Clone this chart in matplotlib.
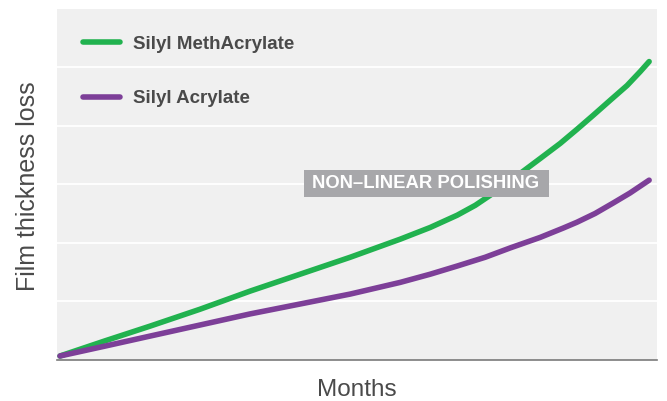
import matplotlib
matplotlib.use("Agg")
import matplotlib.pyplot as plt
from matplotlib.patches import Rectangle

# ---- data ----
series_names = ["Silyl MethAcrylate", "Silyl Acrylate"]
months_green = [0.00, 0.92, 1.83, 2.85, 3.87, 4.89, 5.91, 6.93, 7.54, 8.09, 8.46,
                8.76, 9.07, 9.43, 9.78, 10.19, 10.53, 10.86, 11.21, 11.55, 11.82, 12.00]
loss_green = [0.06, 0.32, 0.57, 0.86, 1.17, 1.46, 1.75, 2.06, 2.26, 2.47, 2.64,
              2.81, 3.00, 3.22, 3.44, 3.70, 3.94, 4.18, 4.44, 4.69, 4.93, 5.10]
months_purple = [0.00, 0.92, 1.83, 2.85, 3.87, 4.89, 5.91, 6.93, 7.54, 8.09, 8.66,
                 9.17, 9.78, 10.25, 10.53, 10.90, 11.27, 11.61, 12.00]
loss_purple = [0.06, 0.23, 0.40, 0.59, 0.78, 0.95, 1.12, 1.32, 1.46, 1.60, 1.75,
               1.91, 2.09, 2.25, 2.35, 2.50, 2.68, 2.85, 3.07]
grid_levels = [1, 2, 3, 4, 5]
annotation_text = "NON\u2013LINEAR POLISHING"
x_label = "Months"
y_label = "Film thickness loss"

GREEN = "#21b24f"
PURPLE = "#7d3f98"
TEXT = "#4a4a4a"

plt.rcParams["font.family"] = ["Liberation Sans", "DejaVu Sans"]

fig = plt.figure(figsize=(6.67, 4.01), dpi=100)
ax = fig.add_axes([57 / 667, (401 - 359.5) / 401, 600 / 667, 350.5 / 401])
ax.set_facecolor("#f0f0f0")

for lv in grid_levels:
    ax.axhline(lv, color="white", lw=1.3, zorder=1)

ax.plot(months_green, loss_green, color=GREEN, lw=4.0, solid_capstyle="round",
        solid_joinstyle="round", label=series_names[0], zorder=3)
ax.plot(months_purple, loss_purple, color=PURPLE, lw=4.0, solid_capstyle="round",
        solid_joinstyle="round", label=series_names[1], zorder=3)

ax.set_xlim(-0.061, 12.16)
ax.set_ylim(0, 6)
ax.set_xticks([])
ax.set_yticks([])
for s in ["top", "right", "left"]:
    ax.spines[s].set_visible(False)
ax.spines["bottom"].set_color("#7a7a7a")
ax.spines["bottom"].set_linewidth(1.2)

leg = ax.legend(loc="upper left", bbox_to_anchor=(0.043, 0.924), frameon=False,
                fontsize=13.5, handlelength=2.0, handletextpad=0.7,
                labelspacing=2.0, borderpad=0, borderaxespad=0)
for t in leg.get_texts():
    t.set_color(TEXT)
    t.set_fontweight("bold")
for h in leg.get_lines():
    h.set_linewidth(4.0)
    h.set_solid_capstyle("round")

# annotation label box
ax.add_patch(Rectangle((0.4117, 0.463), 0.4083, 0.077, transform=ax.transAxes,
                       facecolor="#a7a7aa", edgecolor="none", zorder=4))
ax.text(0.615, 0.5015, annotation_text, transform=ax.transAxes, ha="center",
        va="center", fontsize=13.3, fontweight="bold", color="white", zorder=5)

ax.set_xlabel(x_label, fontsize=17.5, color=TEXT)
ax.xaxis.set_label_coords(0.5, -0.056)
ax.set_ylabel(y_label, fontsize=18, color=TEXT)
ax.yaxis.set_label_coords(-0.029, 0.495)

fig.savefig("out.png", dpi=100)
